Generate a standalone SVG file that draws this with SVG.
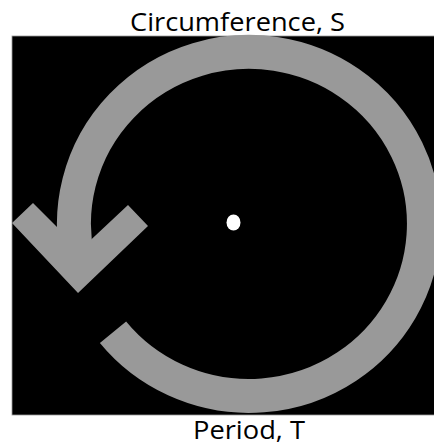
<svg xmlns="http://www.w3.org/2000/svg" width="434" height="446" viewBox="0 0 434 446">
<style>
.lbl{font-family:"Open Sans","Liberation Sans",sans-serif;font-size:26px;fill:#000;text-anchor:middle}
.ring{fill:none;stroke:#999999;stroke-width:34;stroke-linecap:butt}
</style>
<rect x="0" y="0" width="434" height="446" fill="#ffffff"/>
<g id="panel">
<rect x="12" y="36" width="423" height="379" fill="#000000" stroke="#9a9a9a" stroke-width="0.8"/>
</g>
<g id="arrow">
<path class="ring" d="M113,332.2 A175,172 0 1 0 77.8,259.8"/>
<polygon points="12,223 33,203 80,250 128,205 148,226 78,293" fill="#999999"/>
</g>
<g id="center">
<ellipse cx="233.5" cy="222.5" rx="7" ry="8" fill="#ffffff"/>
</g>
<g id="labels">
<text class="lbl" x="237.5" y="31" textLength="215" lengthAdjust="spacingAndGlyphs">Circumference, S</text>
<text class="lbl" x="249" y="439" textLength="112" lengthAdjust="spacingAndGlyphs">Period, T</text>
</g>
</svg>
